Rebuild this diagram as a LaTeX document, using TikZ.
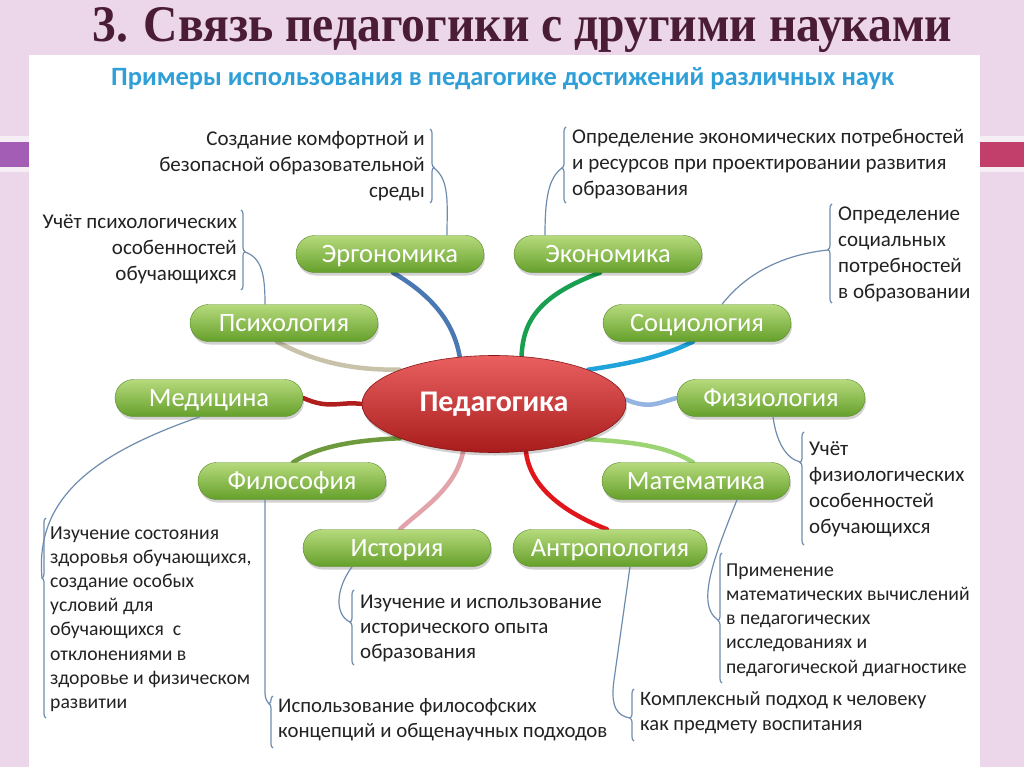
\documentclass[tikz,border=0pt]{standalone}
\usepackage{fontspec}
\usepackage{graphicx}
\setmainfont{Carlito}
\newfontfamily\titlefont{Liberation Serif}
\usetikzlibrary{shapes.geometric,decorations.pathreplacing,calc}
\pgfdeclarelayer{bg}
\pgfdeclarelayer{bonds}
\pgfsetlayers{bg,bonds,main}
\definecolor{bgpink}{HTML}{ECD6EA}
\definecolor{barpurple}{HTML}{A45DB5}
\definecolor{barred}{HTML}{C23E6B}
\definecolor{barlight}{HTML}{F6EEF5}
\definecolor{titlecol}{HTML}{4A1C35}
\definecolor{subblue}{HTML}{2F9FD8}
\definecolor{notecol}{HTML}{222222}
\definecolor{linkcol}{HTML}{6E8CAE}
\definecolor{pilltop}{HTML}{B6DA7C}
\definecolor{pillbot}{HTML}{65A02B}
\definecolor{pedtop}{HTML}{EA6060}
\definecolor{pedbot}{HTML}{A81C1C}
\definecolor{cerg}{HTML}{4A78B2}
\definecolor{cecon}{HTML}{18A050}
\definecolor{cpsy}{HTML}{C9C2AA}
\definecolor{csoc}{HTML}{1FA3DA}
\definecolor{cmed}{HTML}{B01E1E}
\definecolor{cphys}{HTML}{94B4E2}
\definecolor{cphil}{HTML}{6E9A3E}
\definecolor{cmath}{HTML}{9CD474}
\definecolor{chist}{HTML}{E2A4AA}
\definecolor{canth}{HTML}{E0161A}
\tikzset{
  softshadow/.style={preaction={fill=black, fill opacity=0.18, draw=none,
    transform canvas={xshift=1pt, yshift=-3pt}}},
  pill/.style={rounded corners=18.5pt, minimum width=188pt, minimum height=37pt,
    top color=pilltop, bottom color=pillbot, draw=pillbot!85!black, line width=0.4pt,
    text=white, font=\fontsize{26.5}{30}\selectfont, inner sep=0pt,
    text height=19pt, text depth=3pt, softshadow},
  note/.style={inner sep=0pt, text=notecol, align=left, font=\fontsize{21}{26}\selectfont},
  smallnote/.style={note, font=\fontsize{19.7}{24.2}\selectfont},
  bond/.style={line width=4.5pt, line cap=round},
  link/.style={draw=linkcol, line width=1.2pt},
  brk/.style={draw=linkcol, line width=1.2pt, decorate}
}
\begin{document}
\begin{tikzpicture}[x=1pt,y=-1pt]
\useasboundingbox (0,0) rectangle (1024,767);
% background
\begin{pgfonlayer}{bg}
\fill[bgpink] (0,0) rectangle (1024,767);
\fill[white] (29,55) rectangle (980,767);
\fill[barlight] (0,136) rectangle (29,172);
\fill[barpurple] (0,142) rectangle (29,167);
\fill[barlight] (980,136) rectangle (1024,172);
\fill[barred] (980,142) rectangle (1024,167);
\end{pgfonlayer}
% title
\node[anchor=base west, inner sep=0pt, text=titlecol] (title) at (92,42)
  {\resizebox{860pt}{34pt}{\titlefont\bfseries 3. Связь педагогики с другими науками}};
\node[anchor=base west, inner sep=0pt, text=subblue] (subtitle) at (111,86)
  {\resizebox{783pt}{!}{\bfseries Примеры использования в педагогике достижений различных наук}};
% centre and branches
\node[ellipse, minimum width=264pt, minimum height=97pt, inner sep=0pt,
  top color=pedtop, bottom color=pedbot, draw=pedbot!80!black, line width=0.6pt,
  text=white, font=\bfseries\fontsize{30}{34}\selectfont, softshadow] (ped) at (494,404) {Педагогика};
\node[pill] (erg) at (390,254) {Эргономика};
\node[pill] (econ) at (608,254) {Экономика};
\node[pill] (psy) at (284,323) {Психология};
\node[pill] (soc) at (697,323) {Социология};
\node[pill] (med) at (209,398) {Медицина};
\node[pill] (phys) at (771,398) {Физиология};
\node[pill] (phil) at (292,481) {Философия};
\node[pill] (math) at (696,481) {Математика};
\node[pill] (hist) at (397,548) {История};
\node[pill, minimum width=194pt] (anth) at (610,548) {Антропология};
\begin{pgfonlayer}{bonds}
\draw[bond, cerg] ($(erg.south)+(3,0)$) .. controls (440,300) and (455,330) .. (ped.126);
\draw[bond, cecon] ($(econ.south)+(-8,0)$) .. controls (540,295) and (523,320) .. (ped.60);
\draw[bond, cpsy] ($(psy.south)+(-7,0)$) .. controls (320,365) and (360,370) .. (ped.160);
\draw[bond, csoc] (ped.20) .. controls (640,362) and (665,355) .. ($(soc.south)+(-4,0)$);
\draw[bond, cmed] (med.east) .. controls (330,410) and (340,401) .. (ped.west);
\draw[bond, cphys] (ped.2) .. controls (650,410) and (660,402) .. (phys.west);
\draw[bond, cphil] ($(phil.north)+(1,0)$) .. controls (320,445) and (360,440) .. (ped.200);
\draw[bond, cmath] (ped.339) .. controls (640,442) and (670,448) .. ($(math.north)+(-3,0)$);
\draw[bond, chist] (ped.237) .. controls (455,490) and (420,510) .. ($(hist.north)+(3,0)$);
\draw[bond, canth] (ped.304) .. controls (530,490) and (570,515) .. ($(anth.north)+(-3,0)$);
\end{pgfonlayer}
% notes
\node[note, anchor=east, align=right] (n1) at (425,166) {Создание комфортной и\\безопасной образовательной\\среды};
\node[note, anchor=east, align=right] (n2) at (237,249) {Учёт психологических\\особенностей\\обучающихся};
\node[note, anchor=west] (n3) at (572,164) {Определение экономических потребностей\\и ресурсов при проектировании развития\\образования};
\node[note, anchor=west] (n4) at (838,254) {Определение\\социальных\\потребностей\\в образовании};
\node[note, anchor=west] (n5) at (809,489) {Учёт\\физиологических\\особенностей\\обучающихся};
\node[smallnote, anchor=west] (n6) at (726,620) {Применение\\математических вычислений\\в педагогических\\исследованиях и\\педагогической диагностике};
\node[note, anchor=west, font=\fontsize{21}{25}\selectfont] (n7) at (360,628) {Изучение и использование\\исторического опыта\\образования};
\node[smallnote, anchor=west] (n8) at (50,619) {Изучение состояния\\здоровья обучающихся,\\создание особых\\условий для\\обучающихся~~с\\отклонениями в\\здоровье и физическом\\развитии};
\node[note, anchor=west, font=\fontsize{20.8}{25}\selectfont] (n9) at (278,720) {Использование философских\\концепций и общенаучных подходов};
\node[note, anchor=west, font=\fontsize{20.5}{25}\selectfont] (n10) at (640,713) {Комплексный подход к человеку\\как предмету воспитания};
% brackets
\draw[brk, decoration={brace, amplitude=4pt, aspect=0.52}] (430,129) -- (430,203);
\coordinate (b1) at (434,168);
\draw[brk, decoration={brace, amplitude=4pt, aspect=0.52}] (241,210) -- (241,290);
\coordinate (b2) at (245,252);
\draw[brk, decoration={brace, amplitude=4pt, aspect=0.46}] (566,203) -- (566,127);
\coordinate (b3) at (562,168);
\draw[brk, decoration={brace, amplitude=4pt, aspect=0.54}] (832,303) -- (832,204);
\coordinate (b4) at (828,250);
\draw[brk, decoration={brace, amplitude=4pt, aspect=0.73}] (804,545) -- (804,432);
\coordinate (b5) at (800,462);
\draw[brk, decoration={brace, amplitude=4pt, aspect=0.48}] (722,683) -- (722,553);
\coordinate (b6) at (718,620);
\draw[brk, decoration={brace, amplitude=4pt, aspect=0.57}] (354,665) -- (354,590);
\coordinate (b7) at (350,622);
\draw[brk, decoration={brace, amplitude=4pt, aspect=0.7}] (46,718) -- (46,518);
\coordinate (b8) at (42,578);
\draw[brk, decoration={brace, amplitude=4pt, aspect=0.85}] (273,748) -- (273,696);
\coordinate (b9) at (269,704);
\draw[brk, decoration={brace, amplitude=4pt, aspect=0.44}] (634,741) -- (634,689);
\coordinate (b10) at (630,718);
% thin links
\draw[link] (b1) .. controls (450,180) and (447,205) .. ($(erg.north)+(57,0)$);
\draw[link] (b2) .. controls (262,258) and (265,275) .. ($(psy.north)+(-19,0)$);
\draw[link] (b3) .. controls (548,178) and (545,200) .. ($(econ.north)+(-63,0)$);
\draw[link] (b4) .. controls (780,255) and (745,275) .. ($(soc.north)+(25,0)$);
\draw[link] ($(phys.south)+(2,0)$) .. controls (776,440) and (785,458) .. (b5);
\draw[link] ($(math.south)+(41,0)$) .. controls (715,555) and (695,605) .. (b6);
\draw[link] ($(hist.south)+(-45,0)$) .. controls (335,590) and (335,615) .. (b7);
\draw[link] ($(med.south)+(-9,0)$) .. controls (90,455) and (35,500) .. (b8);
\draw[link] ($(phil.south)+(-27,0)$) -- (265,688) .. controls (265,698) .. (b9);
\draw[link] ($(anth.south)+(20,0)$) -- (614,680) .. controls (610,708) and (618,716) .. (b10);
\end{tikzpicture}
\end{document}
